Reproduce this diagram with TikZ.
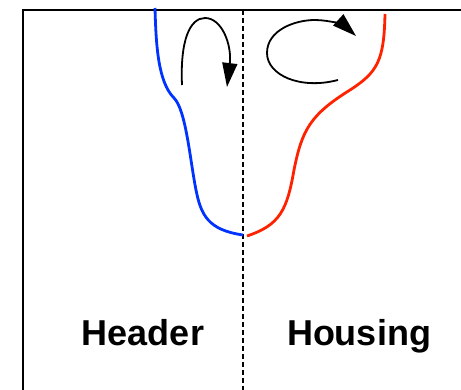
\documentclass[tikz,border=0pt]{standalone}
\usepackage{fontspec}
\setmainfont{Liberation Sans}
\usetikzlibrary{arrows.meta}
\definecolor{hdrblue}{RGB}{0,51,255}
\definecolor{hsgred}{RGB}{255,34,0}
\tikzset{
  frameline/.style={line width=1.8pt},
  splitline/.style={line width=1.4pt, dash pattern=on 5pt off 3pt},
  contour/.style={line width=2.8pt},
  flowarrow/.style={line width=1.8pt, -{Triangle[length=24pt,width=15pt]}},
  label/.style={font=\bfseries\fontsize{36}{40}\selectfont, anchor=base}
}
\begin{document}
\begin{tikzpicture}[x=1pt,y=-1pt]
  \useasboundingbox (0,0) rectangle (461,390);
  % frame and parting line
  \draw[frameline] (23,390) -- (23,10) -- (461,10);
  \draw[splitline] (243,10) -- (243,390);
  % header side contour
  \draw[contour, hdrblue] (155,8) .. controls (156,45) and (158,82) .. (174,98)
     .. controls (186,110) and (190,160) .. (196,190)
     .. controls (201,215) and (208,230) .. (243,235);
  % housing side contour
  \draw[contour, hsgred] (385,14) .. controls (384,60) and (378,72) .. (350,90)
     .. controls (310,115) and (302,130) .. (294,170)
     .. controls (287,210) and (280,225) .. (247,236);
  % circulation arrows
  \draw[flowarrow] (182,85) .. controls (180,40) and (190,18) .. (205,18)
     .. controls (222,18) and (232,45) .. (227,87);
  \draw[flowarrow] (338,80) .. controls (300,90) and (267,75) .. (267,53)
     .. controls (267,30) and (295,20) .. (315,20)
     .. controls (330,20) and (345,26) .. (356,36);
  % side labels
  \node[label] (hdr) at (143,345) {Header};
  \node[label] (hsg) at (359,345) {Housing};
\end{tikzpicture}
\end{document}
